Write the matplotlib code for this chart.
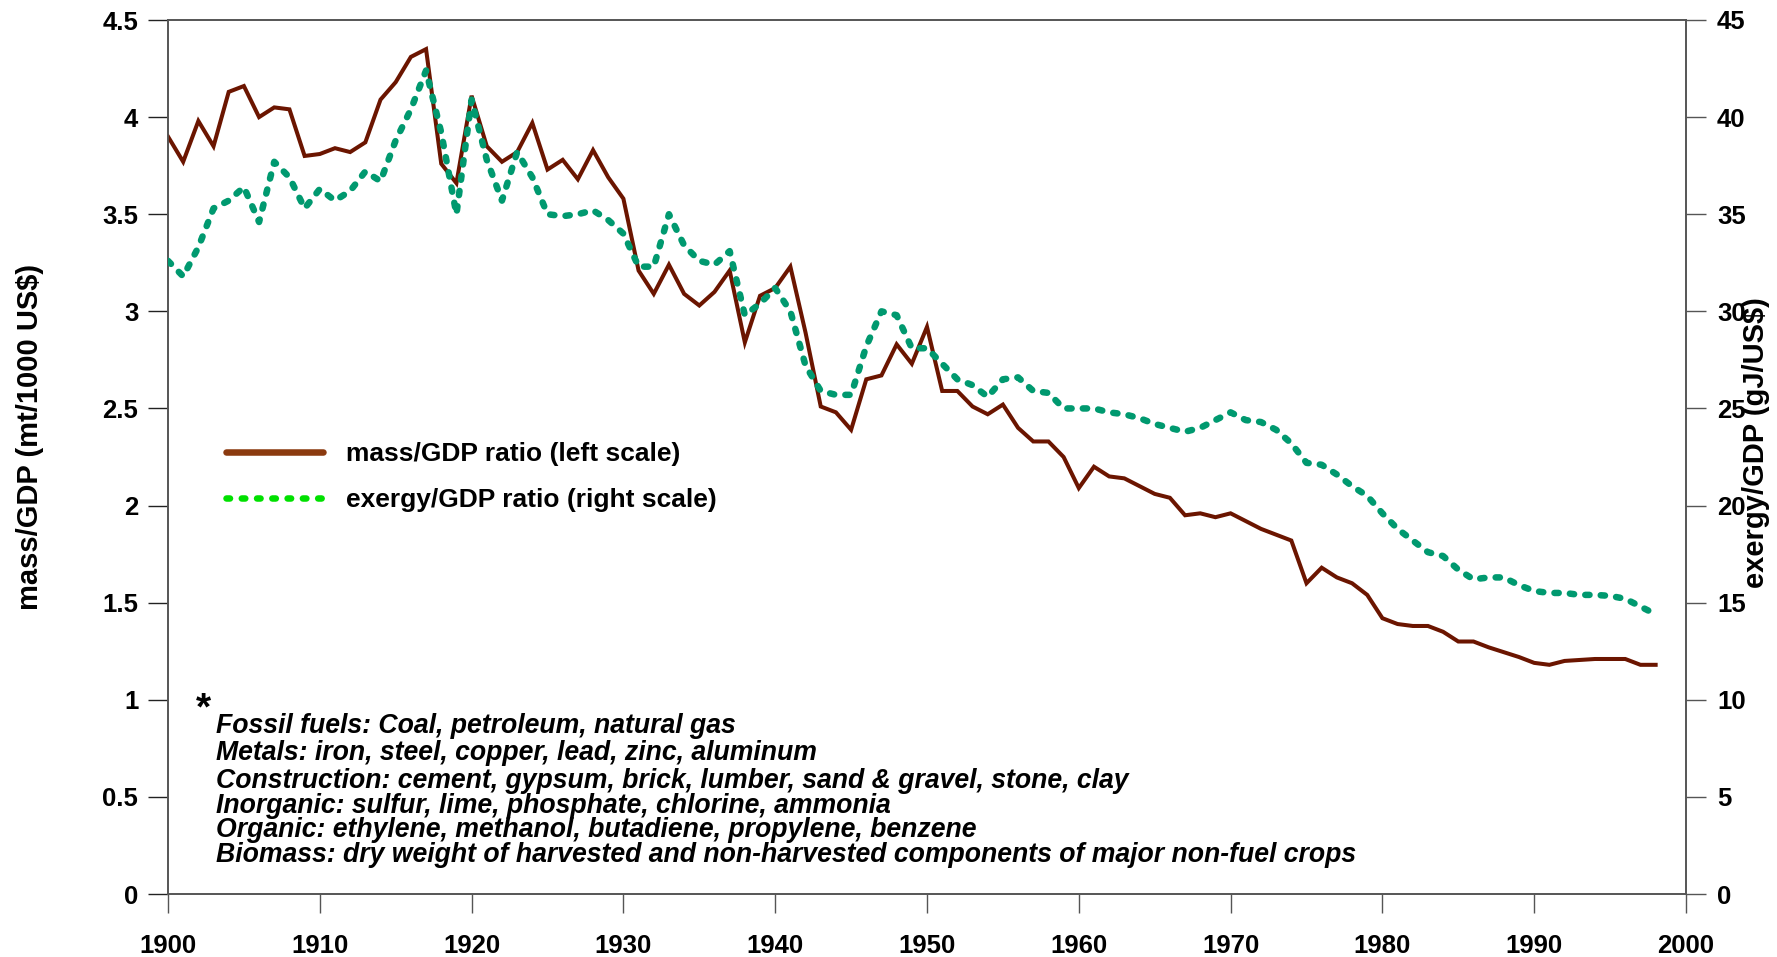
import matplotlib
matplotlib.use("Agg")
import matplotlib.pyplot as plt
from matplotlib.lines import Line2D
from matplotlib.ticker import FuncFormatter

plt.rcParams['font.family'] = ['Liberation Sans', 'DejaVu Sans']
plt.rcParams['font.weight'] = 'bold'

years_mass = list(range(1900, 1999))
mass_gdp = [3.90, 3.77, 3.98, 3.85, 4.13, 4.16, 4.00, 4.05, 4.04, 3.80,
            3.81, 3.84, 3.82, 3.87, 4.09, 4.18, 4.31, 4.35, 3.76, 3.66,
            4.11, 3.85, 3.77, 3.82, 3.97, 3.73, 3.78, 3.68, 3.83, 3.69,
            3.58, 3.21, 3.09, 3.24, 3.09, 3.03, 3.10, 3.21, 2.84, 3.08,
            3.12, 3.23, 2.89, 2.51, 2.48, 2.39, 2.65, 2.67, 2.83, 2.73,
            2.92, 2.59, 2.59, 2.51, 2.47, 2.52, 2.40, 2.33, 2.33, 2.25,
            2.09, 2.20, 2.15, 2.14, 2.10, 2.06, 2.04, 1.95, 1.96, 1.94,
            1.96, 1.92, 1.88, 1.85, 1.82, 1.60, 1.68, 1.63, 1.60, 1.54,
            1.42, 1.39, 1.38, 1.38, 1.35, 1.30, 1.30, 1.27, 1.245, 1.22,
            1.19, 1.18, 1.20, 1.205, 1.21, 1.21, 1.21, 1.18, 1.18]

years_exergy = list(range(1900, 1999))
exergy_gdp = [32.6, 31.8, 33.3, 35.3, 35.7, 36.4, 34.6, 37.7, 36.9, 35.3,
              36.3, 35.7, 36.2, 37.2, 36.7, 38.8, 40.4, 42.4, 39.2, 35.0,
              40.9, 37.8, 35.7, 38.2, 36.9, 35.0, 34.9, 35.0, 35.2, 34.7,
              34.0, 32.3, 32.3, 35.0, 33.4, 32.6, 32.4, 33.1, 29.8, 30.4,
              31.2, 30.0, 27.2, 25.9, 25.7, 25.7, 28.2, 30.0, 29.8, 28.1,
              28.1, 27.3, 26.5, 26.2, 25.6, 26.5, 26.6, 25.9, 25.8, 25.0,
              25.0, 25.0, 24.8, 24.7, 24.5, 24.2, 24.0, 23.8, 24.0, 24.4,
              24.8, 24.4, 24.3, 23.9, 23.2, 22.2, 22.1, 21.6, 21.0, 20.5,
              19.6, 18.8, 18.2, 17.6, 17.4, 16.7, 16.2, 16.3, 16.3, 15.9,
              15.6, 15.5, 15.5, 15.4, 15.4, 15.35, 15.2, 14.8, 14.4]

x_ticks = list(range(1900, 2001, 10))
left_ticks = [0, 0.5, 1, 1.5, 2, 2.5, 3, 3.5, 4, 4.5]
right_ticks = [0, 5, 10, 15, 20, 25, 30, 35, 40, 45]

legend_labels = ["mass/GDP ratio (left scale)", "exergy/GDP ratio (right scale)"]
note_lines = [
    "Fossil fuels: Coal, petroleum, natural gas",
    "Metals: iron, steel, copper, lead, zinc, aluminum",
    "Construction: cement, gypsum, brick, lumber, sand & gravel, stone, clay",
    "Inorganic: sulfur, lime, phosphate, chlorine, ammonia",
    "Organic: ethylene, methanol, butadiene, propylene, benzene",
    "Biomass: dry weight of harvested and non-harvested components of major non-fuel crops",
]

W, H = 1777, 957
fig = plt.figure(figsize=(W / 100, H / 100), dpi=100)
ax_l, ax_r, ax_b, ax_t = 168, 1686, 894, 20
ax = fig.add_axes([ax_l / W, 1 - ax_b / H, (ax_r - ax_l) / W, (ax_b - ax_t) / H])
ax2 = ax.twinx()

mass_color = '#6b1500'
ex_color = '#00996f'

ax.plot(years_mass, mass_gdp, color=mass_color, lw=2.9, solid_joinstyle='miter', zorder=3)
ax2.plot(years_exergy, exergy_gdp, color=ex_color, lw=4.7,
         linestyle=(0, (0.65, 1.72)), dash_capstyle='round', zorder=3)

ax.set_xlim(1900, 2000)
ax.set_ylim(0, 4.5)
ax2.set_ylim(0, 45)
ax.set_xticks(x_ticks)
ax.set_yticks(left_ticks)
ax2.set_yticks(right_ticks)

fmt = FuncFormatter(lambda v, p: ('%g' % v))
ax.yaxis.set_major_formatter(fmt)
ax2.yaxis.set_major_formatter(fmt)

spine_c = '#555555'
for a in (ax, ax2):
    for s in a.spines.values():
        s.set_color(spine_c)
        s.set_linewidth(1.2)
ax.tick_params(axis='y', direction='out', length=14.4, width=1.0, color='#222222',
               labelsize=18.5, pad=7)
ax.tick_params(axis='x', direction='out', length=14.0, width=1.0, color='#555555',
               labelsize=18.5, pad=15)
ax2.tick_params(axis='y', direction='out', length=14.4, width=1.0, color='#555555',
                labelsize=18.5, pad=8)
for lab in ax.get_xticklabels() + ax.get_yticklabels() + ax2.get_yticklabels():
    lab.set_fontweight('bold')

fig.text(30 / W, 1 - 437 / H, "mass/GDP (mt/1000 US$)", rotation=90,
         ha='center', va='center', fontsize=21, fontweight='bold')
fig.text(1756 / W, 1 - 443 / H, "exergy/GDP (gJ/US$)", rotation=90,
         ha='center', va='center', fontsize=21, fontweight='bold')

handles = [Line2D([], [], color='#8b3a0f', lw=4.7, solid_capstyle='round'),
           Line2D([], [], color='#00e000', lw=4.7, linestyle=(0, (0.54, 1.8)),
                  dash_capstyle='round')]
leg = ax2.legend(handles, legend_labels, loc='center left',
                 bbox_to_anchor=((226 - ax_l) / (ax_r - ax_l), (ax_b - 477) / (ax_b - ax_t)),
                 frameon=False, borderpad=0, borderaxespad=0, handlelength=3.67,
                 handletextpad=0.87, labelspacing=0.84,
                 prop={'size': 19, 'weight': 'bold'})

def axy(py):
    return (ax_b - py) / (ax_b - ax_t)

def axx(px):
    return (px - ax_l) / (ax_r - ax_l)

ax2.text(axx(203), axy(719), "*", transform=ax2.transAxes, fontsize=28,
         fontweight='bold', ha='center', va='baseline')
baselines = [733, 760, 788, 813, 837, 862]
for line, b in zip(note_lines, baselines):
    ax2.text(axx(216), axy(b), line, transform=ax2.transAxes, fontsize=19.2,
             fontweight='bold', fontstyle='italic', ha='left', va='baseline')

fig.savefig("out.png", dpi=100)
